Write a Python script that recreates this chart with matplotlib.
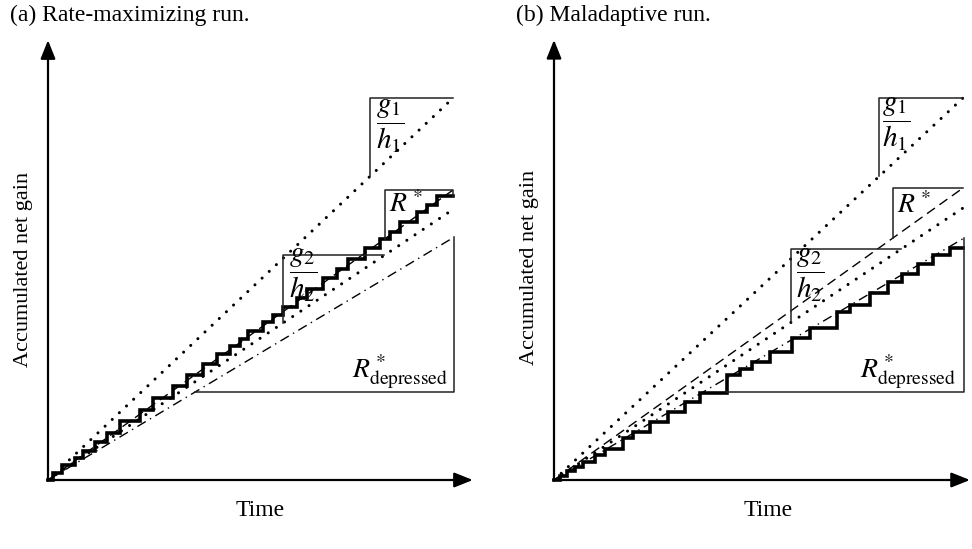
import numpy as np
import matplotlib
matplotlib.use('Agg')
import matplotlib.pyplot as plt

plt.rcParams['font.family'] = ['Liberation Serif', 'DejaVu Serif']
plt.rcParams['mathtext.fontset'] = 'stix'

# --- data (time scaled to 0..1) ---
titles = ['(a) Rate-maximizing run.', '(b) Maladaptive run.']
g1_slope = [0.943, 0.934]
g2_slope = [0.668, 0.665]
rstar_slope = [0.716, 0.714]
dep_slope = [0.598, 0.590]

# staircase: times of each gain and level reached after it
steps_a_t = [0.012, 0.035, 0.067, 0.086, 0.116, 0.146, 0.178, 0.227, 0.259, 0.309,
             0.343, 0.383, 0.417, 0.449, 0.474, 0.494, 0.531, 0.556, 0.580, 0.615,
             0.640, 0.679, 0.714, 0.741, 0.783, 0.820, 0.844, 0.869, 0.911, 0.936, 0.960]
steps_a_h = [0.017, 0.037, 0.055, 0.072, 0.094, 0.116, 0.145, 0.174, 0.203, 0.233,
             0.260, 0.286, 0.310, 0.330, 0.347, 0.367, 0.389, 0.407, 0.428, 0.449,
             0.472, 0.499, 0.521, 0.546, 0.574, 0.596, 0.613, 0.637, 0.661, 0.679, 0.702]
steps_b_t = [0.015, 0.032, 0.051, 0.071, 0.100, 0.125, 0.169, 0.193, 0.235, 0.279,
             0.320, 0.357, 0.423, 0.455, 0.484, 0.528, 0.582, 0.626, 0.692, 0.724,
             0.773, 0.817, 0.851, 0.890, 0.927, 0.968]
steps_b_h = [0.011, 0.021, 0.032, 0.045, 0.062, 0.077, 0.103, 0.117, 0.141, 0.167,
             0.191, 0.213, 0.257, 0.271, 0.288, 0.314, 0.346, 0.372, 0.410, 0.429,
             0.458, 0.484, 0.504, 0.527, 0.549, 0.568]
steps_t = [steps_a_t, steps_b_t]
steps_h = [steps_a_h, steps_b_h]

# --- layout (pixels of the 972x549 figure) ---
W, H = 972, 549
origin_px = [(48, 480), (554, 480)]
scale_px = [405, 409]
x_tip = [1.049, 1.017]
y_tip = [1.086, 1.076]
g1_box_t = [0.795, 0.795]
g2_box_t = [(0.58, 0.83), (0.579, 0.848)]
rs_box_t = [0.832, 0.829]
dep_box = [(0.363, 0.217), (0.421, 0.215)]
lab_g1 = [(0.845, 0.872), (0.836, 0.870)]
lab_rs = [(0.884, 0.679), (0.879, 0.672)]
lab_g2 = [(0.630, 0.506), (0.625, 0.501)]
lab_dep = [(0.868, 0.267), (0.866, 0.264)]

fig = plt.figure(figsize=(W / 100, H / 100), dpi=100)

dotted = dict(color='black', lw=2.2, linestyle=(0, (0.01, 3.2)), dash_capstyle='round')
box_kw = dict(color='#222222', lw=1.1)

for i in range(2):
    ox, oy = origin_px[i]
    sc = scale_px[i]
    left_px, right_px = ox - 10, min(ox + 440, W)
    top_px, bot_px = 30, 492
    ax = fig.add_axes([left_px / W, (H - bot_px) / H, (right_px - left_px) / W, (bot_px - top_px) / H])
    ax.set_xlim((left_px - ox) / sc, (right_px - ox) / sc)
    ax.set_ylim((oy - bot_px) / sc, (oy - top_px) / sc)
    ax.axis('off')

    # reference rate lines
    ax.plot([0, 1], [0, g1_slope[i]], **dotted)
    ax.plot([0, 1], [0, g2_slope[i]], **dotted)
    ax.plot([0, 1], [0, rstar_slope[i]], color='black', lw=1.0, linestyle=(0, (7, 4)))
    ax.plot([0, 1], [0, dep_slope[i]], color='black', lw=1.0, linestyle=(0, (7, 3.5, 1, 3.5)))

    # accumulated gain staircase
    t = [0] + steps_t[i] + [1.0]
    h = [0] + steps_h[i] + [steps_h[i][-1]]
    ax.step(t, h, where='post', color='black', lw=2.6, solid_joinstyle='miter')

    # slope boxes
    s = g1_slope[i]
    t0 = g1_box_t[i]
    ax.plot([t0, t0, 1.0], [s * t0, s, s], **box_kw)
    s = rstar_slope[i]
    t0 = rs_box_t[i]
    if i == 0:
        ax.plot([t0, t0, 1.0, 1.0], [s * t0, s, s, steps_h[i][-1]], **box_kw)
    else:
        ax.plot([t0, t0, 1.0], [s * t0, s, s], **box_kw)
    s = g2_slope[i]
    t0, t1 = g2_box_t[i]
    ax.plot([t0, t0, t1], [s * t0, s * t1, s * t1], **box_kw)
    s = dep_slope[i]
    t0, b = dep_box[i]
    ax.plot([t0, 1.003, 1.003], [b, b, s * 1.003], **box_kw)

    # labels
    ax.text(*lab_g1[i], r'$\dfrac{g_1}{h_1}$', fontsize=21, ha='center', va='center')
    ax.text(*lab_g2[i], r'$\dfrac{g_2}{h_2}$', fontsize=21, ha='center', va='center')
    ax.text(*lab_rs[i], r'$R^*$', fontsize=20, ha='center', va='center')
    ax.text(*lab_dep[i], r'$R^*_{\mathrm{depressed}}$', fontsize=20, ha='center', va='center')

    # axes arrows
    arr = dict(arrowstyle='-|>,head_length=0.75,head_width=0.3', lw=1.6, color='black',
               mutation_scale=15, shrinkA=0, shrinkB=0)
    ax.annotate('', xy=(x_tip[i], 0), xytext=(0, 0), arrowprops=arr, annotation_clip=False)
    ax.annotate('', xy=(0, y_tip[i]), xytext=(0, 0), arrowprops=arr, annotation_clip=False)

    ax.text(0.524, -0.075, 'Time', fontsize=17, ha='center', va='center')
    ax.text(-0.06, 0.52, 'Accumulated net gain', fontsize=16, rotation=90,
            ha='center', va='center')

fig.text(10 / W, 1 - 15 / H, titles[0], fontsize=17, ha='left', va='center')
fig.text(516 / W, 1 - 15 / H, titles[1], fontsize=17, ha='left', va='center')

fig.savefig('out.png', dpi=100)
